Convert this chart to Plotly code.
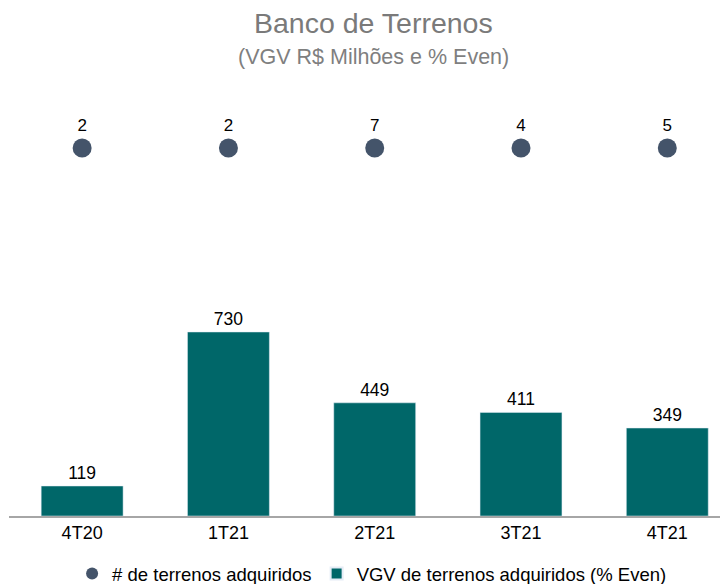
import plotly.graph_objects as go

# dados
trimestres = ["4T20", "1T21", "2T21", "3T21", "4T21"]
vgv = [119, 730, 449, 411, 349]
n_terrenos = [2, 2, 7, 4, 5]

cor_barra = "#006769"
cor_ponto = "#44546a"
fonte = "Liberation Sans, Arial, sans-serif"

fig = go.Figure()

fig.add_trace(go.Scatter(
    x=trimestres, y=[1] * len(trimestres), yaxis="y2",
    mode="markers+text", text=[str(v) for v in n_terrenos],
    textposition="top center", textfont=dict(size=17, color="#000000"),
    marker=dict(size=19, color=cor_ponto),
    name="# de terrenos adquiridos", cliponaxis=False,
))

fig.add_trace(go.Bar(
    x=trimestres, y=vgv, marker_color=cor_barra, width=0.56,
    text=vgv, textposition="outside", textfont=dict(size=17.5, color="#000000"),
    name="VGV de terrenos adquiridos (% Even)", cliponaxis=False,
))

# título e subtítulo (a página tem 8px de margem no body)
fig.add_annotation(text="Banco de Terrenos", xref="paper", yref="paper",
                   x=(374 - 9) / 719, y=1 + (90 - 23) / 426, yanchor="middle",
                   showarrow=False, borderpad=0, font=dict(size=28.5, color="#7a7a7a"))
fig.add_annotation(text="(VGV R$ Milhões e % Even)", xref="paper", yref="paper",
                   x=(374 - 9) / 719, y=1 + (90 - 57) / 426, yanchor="middle",
                   showarrow=False, borderpad=0, font=dict(size=21.5, color="#7f7f7f"))

fig.update_layout(
    width=728, height=584,
    margin=dict(l=1, r=8, t=82, b=76, autoexpand=False),
    paper_bgcolor="white", plot_bgcolor="white",
    font=dict(family=fonte, size=16, color="#000000"),
    xaxis=dict(
        type="category", range=[-0.5, 4.415], automargin=False,
        showline=True, linecolor="#a6a6a6", linewidth=1.5,
        showgrid=False, ticks="", tickfont=dict(size=18),
    ),
    yaxis=dict(range=[0, 1690], visible=False, showgrid=False, automargin=False),
    yaxis2=dict(range=[0, 1 / 0.864], overlaying="y", visible=False,
                showgrid=False, automargin=False),
    legend=dict(
        orientation="h", x=0.505, xanchor="center", y=-0.136, yanchor="middle",
        font=dict(size=18.5), itemsizing="constant",
    ),
    showlegend=True,
)

fig.write_html("out.html")
